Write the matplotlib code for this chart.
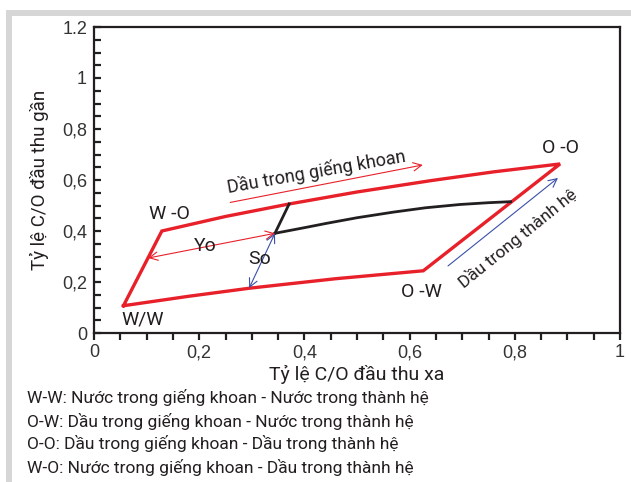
import matplotlib
matplotlib.use("Agg")
import matplotlib.pyplot as plt
from matplotlib.patches import Rectangle
from matplotlib.ticker import MultipleLocator

# red envelope: lower edge (W/W -> O-W) and upper edge (W-O -> O-O)
lower_x = [0.056, 0.18, 0.297, 0.46, 0.626]
lower_y = [0.107, 0.144, 0.176, 0.213, 0.244]
upper_x = [0.129, 0.25, 0.371, 0.50, 0.642, 0.76, 0.886]
upper_y = [0.400, 0.457, 0.506, 0.553, 0.598, 0.632, 0.663]

# black measured curve + connecting stub
curve_x = [0.344, 0.40, 0.442, 0.50, 0.569, 0.63, 0.696, 0.75, 0.792]
curve_y = [0.391, 0.413, 0.430, 0.452, 0.474, 0.491, 0.504, 0.511, 0.515]
stub_x = [0.344, 0.371]
stub_y = [0.391, 0.506]

xticks = [0, 0.2, 0.4, 0.6, 0.8, 1]
xticklabels = ["0", "0,2", "0,4", "0,6", "0,8", "1"]
yticks = [0, 0.2, 0.4, 0.6, 0.8, 1, 1.2]
yticklabels = ["0", "0,2", "0,4", "0,6", "0,8", "1", "1.2"]

notes = [
    "W-W: Nước trong giếng khoan - Nước trong thành hệ",
    "O-W: Dầu trong giếng khoan - Nước trong thành hệ",
    "O-O: Dầu trong giếng khoan - Dầu trong thành hệ",
    "W-O: Nước trong giếng khoan - Dầu trong thành hệ",
]

TXT = ["Roboto", "Noto Sans", "DejaVu Sans"]
NUM = ["Liberation Sans", "DejaVu Sans"]
RED = "#e8202a"
BLUE = "#3a4fa8"
DARK = "#231f20"

fig = plt.figure(figsize=(6.31, 4.82), dpi=100)
fig.add_artist(Rectangle((6 / 631, 1 - 16 / 482), 1, 6 / 482,
                         transform=fig.transFigure, color="#d6d6d6", lw=0))
fig.add_artist(Rectangle((6 / 631, 0), 6 / 631, 1 - 10 / 482,
                         transform=fig.transFigure, color="#d6d6d6", lw=0))

ax = fig.add_axes([94 / 631, 1 - 333 / 482, 526 / 631, 306 / 482])
ax.set_xlim(0, 1)
ax.set_ylim(0, 1.2)

bx = lower_x + upper_x[::-1] + [lower_x[0]]
by = lower_y + upper_y[::-1] + [lower_y[0]]
ax.plot(bx, by, color=RED, lw=2.4, solid_joinstyle="miter")
ax.plot(curve_x, curve_y, color=DARK, lw=2.0)
ax.plot(stub_x, stub_y, color=DARK, lw=2.0)

def arrow(p0, p1, color, style):
    ax.annotate("", xy=p1, xytext=p0,
                arrowprops=dict(arrowstyle=style + ",head_length=0.6,head_width=0.3",
                                color=color, lw=0.8, shrinkA=0, shrinkB=0))

arrow((0.103, 0.294), (curve_x[0], curve_y[0]), RED, "<->")
arrow((0.295, 0.176), (curve_x[0], curve_y[0]), BLUE, "<->")
arrow((0.259, 0.512), (0.625, 0.659), RED, "->")
arrow((0.673, 0.263), (0.882, 0.608), BLUE, "->")

lab = dict(fontsize=14, family=TXT, ha="center", va="center", color=DARK)
ax.text(0.143, 0.467, "W -O", **lab)
ax.text(0.211, 0.341, "Yo", **lab)
ax.text(0.314, 0.290, "So", **lab)
ax.text(0.093, 0.051, "W/W", **lab)
ax.text(0.623, 0.161, "O -W", **lab)
ax.text(0.886, 0.725, "O -O", **lab)
ax.text(0.423, 0.633, "Dầu trong giếng khoan", fontsize=13, family=TXT,
        ha="center", va="center", rotation=10, rotation_mode="anchor", color=DARK)
ax.text(0.805, 0.370, "Dầu trong thành hệ", fontsize=12.5, family=TXT,
        ha="center", va="center", rotation=39, rotation_mode="anchor", color=DARK)

for s in ax.spines.values():
    s.set_linewidth(1.6)
    s.set_color(DARK)

ax.set_xticks(xticks)
ax.set_xticklabels(xticklabels, family=NUM, fontsize=13, color="#333333")
ax.set_yticks(yticks)
ax.set_yticklabels(yticklabels, family=NUM, fontsize=13, color="#333333")
ax.xaxis.set_minor_locator(MultipleLocator(0.05))
ax.yaxis.set_minor_locator(MultipleLocator(0.05))
ax.tick_params(axis="x", which="both", direction="out", length=5, width=1.6,
               color=DARK, pad=3)
ax.tick_params(axis="y", which="both", direction="in", length=5, width=1.6,
               color=DARK, pad=5)

ax.set_xlabel("Tỷ lệ C/O đầu thu xa", family=TXT, fontsize=14, color=DARK, labelpad=3)
ax.set_ylabel("Tỷ lệ C/O đầu thu gần", family=TXT, fontsize=13.5, color=DARK, labelpad=9)

for i, line in enumerate(notes):
    fig.text(27 / 631, 1 - (398 + 23 * i) / 482, line, family=TXT, fontsize=12.5,
             ha="left", va="center", color=DARK)

fig.savefig("out.png", dpi=100)
